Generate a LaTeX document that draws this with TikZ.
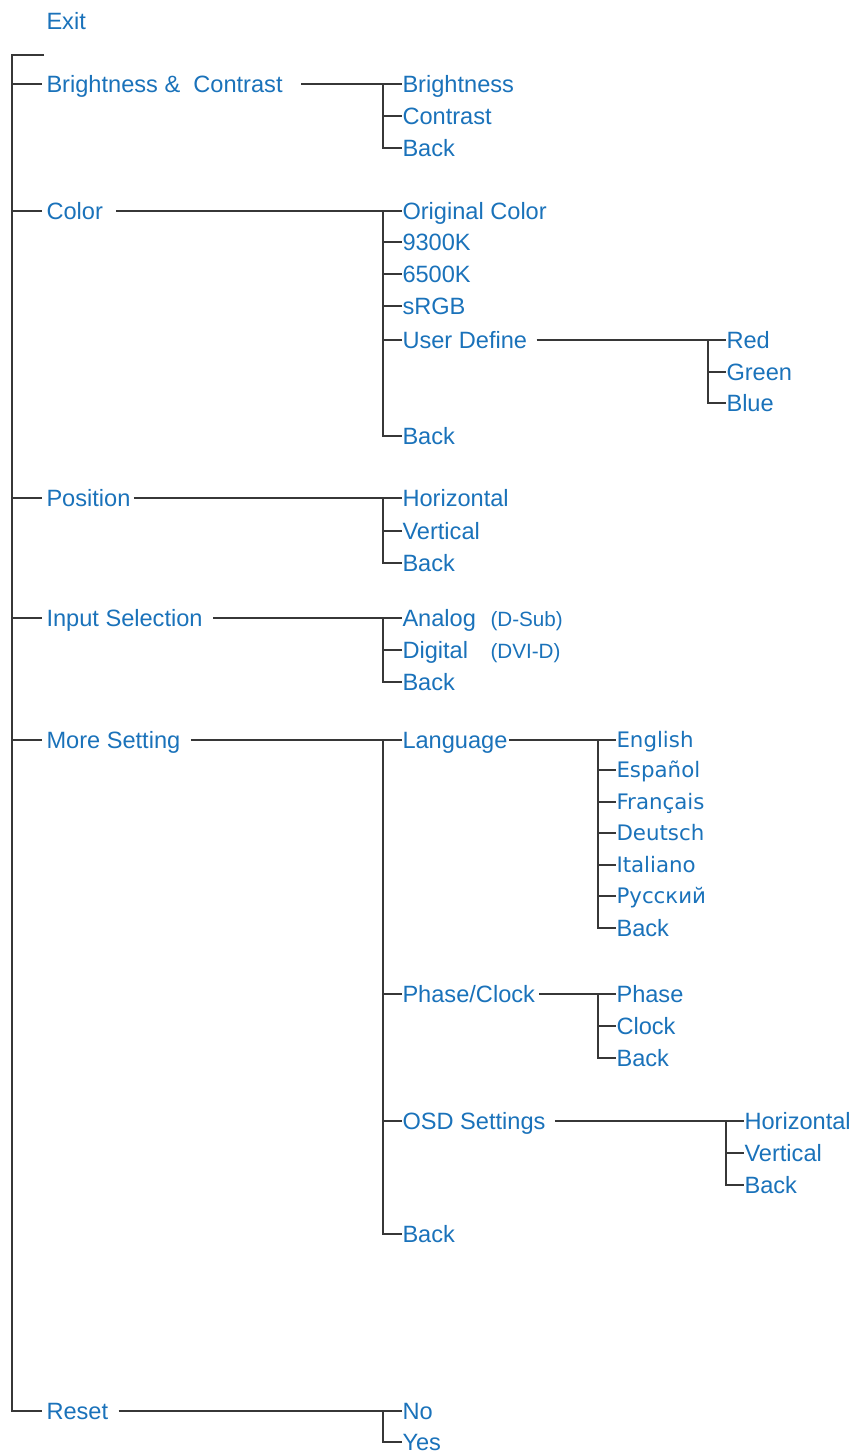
\documentclass[tikz,border=0pt]{standalone}
\usepackage{fontspec}
\setmainfont{Liberation Sans}
\newfontfamily\langfont{DejaVu Sans}
\definecolor{menublue}{RGB}{26,114,186}
\definecolor{menuline}{RGB}{55,55,55}

\tikzset{every picture/.style={line width=0.75pt}}
\tikzset{
  item/.style={anchor=west, inner sep=0pt, text height=12.6pt, text depth=0pt, text=menublue, font=\fontsize{17.7pt}{20pt}\selectfont},
  langitem/.style={item, text height=11.7pt, font=\langfont\fontsize{16pt}{19pt}\selectfont},
  note/.style={anchor=base west, inner sep=0pt, text=menublue, font=\fontsize{15.5pt}{18pt}\selectfont},
  link/.style={draw=menuline, line width=1.3pt},
}

\begin{document}
\begin{tikzpicture}[x=0.75pt,y=0.75pt,yscale=-1,xscale=1]
        \useasboundingbox (0,0) rectangle (855,1455);

        %Main menu
        \node[item] (exit) at (46,21) {Exit};
        \coordinate (blank) at (44,55);
        \coordinate (rootT) at (12,55);
        \node[item] (bc) at (46,84) {Brightness \& \ Contrast};
        \node[item] (col) at (46,211) {Color};
        \node[item] (pos) at (46,498) {Position};
        \node[item] (inp) at (46,618) {Input Selection};
        \node[item] (more) at (46,740) {More Setting};
        \node[item] (reset) at (46,1411) {Reset};

        %Brightness & Contrast
        \coordinate (bcT) at (383,84);
        \node[item] (bcBri) at (402,84) {Brightness};
        \node[item] (bcCon) at (402,116) {Contrast};
        \node[item] (bcBack) at (402,148) {Back};

        %Color
        \coordinate (colT) at (383,211);
        \node[item] (colOrig) at (402,211) {Original Color};
        \node[item] (colK93) at (402,242) {9300K};
        \node[item] (colK65) at (402,274) {6500K};
        \node[item] (colSRGB) at (402,306) {sRGB};
        \node[item] (colUser) at (402,340) {User Define};
        \node[item] (colBack) at (402,436) {Back};
        \coordinate (userT) at (708,340);
        \node[item] (userRed) at (726,340) {Red};
        \node[item] (userGreen) at (726,372) {Green};
        \node[item] (userBlue) at (726,403) {Blue};

        %Position
        \coordinate (posT) at (383,498);
        \node[item] (posHor) at (402,498) {Horizontal};
        \node[item] (posVer) at (402,531) {Vertical};
        \node[item] (posBack) at (402,563) {Back};

        %Input Selection
        \coordinate (inpT) at (383,618);
        \coordinate (noteX) at (490,0);
        \node[item] (inpAnalog) at (402,618) {Analog};
        \node[item] (inpDigital) at (402,650) {Digital};
        \node[item] (inpBack) at (402,682) {Back};
        \node[note] (inpAnalogNote) at (inpAnalog.base -| noteX) {(D-Sub)};
        \node[note] (inpDigitalNote) at (inpDigital.base -| noteX) {(DVI-D)};

        %More Setting
        \coordinate (moreT) at (383,740);
        \node[item] (moreLang) at (402,740) {Language};
        \node[item] (morePhase) at (402,994) {Phase/Clock};
        \node[item] (moreOSD) at (402,1121) {OSD Settings};
        \node[item] (moreBack) at (402,1234) {Back};
        \coordinate (langT) at (598,740);
        \node[langitem] (langEn) at (616,740) {English};
        \node[langitem] (langEs) at (616,770) {Español};
        \node[langitem] (langFr) at (616,802) {Français};
        \node[langitem] (langDe) at (616,833) {Deutsch};
        \node[langitem] (langIt) at (616,865) {Italiano};
        \node[langitem] (langRu) at (616,896) {Русский};
        \node[item] (langBack) at (616,928) {Back};
        \coordinate (phT) at (598,994);
        \node[item] (phPhase) at (616,994) {Phase};
        \node[item] (phClock) at (616,1026) {Clock};
        \node[item] (phBack) at (616,1058) {Back};
        \coordinate (osdT) at (726,1121);
        \node[item] (osdHor) at (744,1121) {Horizontal};
        \node[item] (osdVer) at (744,1153) {Vertical};
        \node[item] (osdBack) at (744,1185) {Back};

        %Reset
        \coordinate (resT) at (383,1411);
        \node[item] (resNo) at (402,1411) {No};
        \node[item] (resYes) at (402,1442) {Yes};

        %Straight Lines main trunk
        \draw[link] (blank) -- (rootT) |- ([xshift=-3pt]reset.west);
        \draw[link] (rootT |- bc.west) -- ([xshift=-3pt]bc.west);
        \draw[link] (rootT |- col.west) -- ([xshift=-3pt]col.west);
        \draw[link] (rootT |- pos.west) -- ([xshift=-3pt]pos.west);
        \draw[link] (rootT |- inp.west) -- ([xshift=-3pt]inp.west);
        \draw[link] (rootT |- more.west) -- ([xshift=-3pt]more.west);

        %Straight Lines brightness & contrast
        \draw[link] ([xshift=13.5pt]bc.east) -- (bcBri.west);
        \draw[link] (bcT) |- (bcBack.west);
        \draw[link] (bcT |- bcCon.west) -- (bcCon.west);

        %Straight Lines color
        \draw[link] ([xshift=9.75pt]col.east) -- (colOrig.west);
        \draw[link] (colT) |- (colBack.west);
        \draw[link] (colT |- colK93.west) -- (colK93.west);
        \draw[link] (colT |- colK65.west) -- (colK65.west);
        \draw[link] (colT |- colSRGB.west) -- (colSRGB.west);
        \draw[link] (colT |- colUser.west) -- (colUser.west);
        \draw[link] ([xshift=6.75pt]colUser.east) -- (userRed.west);
        \draw[link] (userT) |- (userBlue.west);
        \draw[link] (userT |- userGreen.west) -- (userGreen.west);

        %Straight Lines position
        \draw[link] ([xshift=2.25pt]pos.east) -- (posHor.west);
        \draw[link] (posT) |- (posBack.west);
        \draw[link] (posT |- posVer.west) -- (posVer.west);

        %Straight Lines input selection
        \draw[link] ([xshift=7.5pt]inp.east) -- (inpAnalog.west);
        \draw[link] (inpT) |- (inpBack.west);
        \draw[link] (inpT |- inpDigital.west) -- (inpDigital.west);

        %Straight Lines more setting
        \draw[link] ([xshift=7.5pt]more.east) -- (moreLang.west);
        \draw[link] (moreT) |- (moreBack.west);
        \draw[link] (moreT |- morePhase.west) -- (morePhase.west);
        \draw[link] (moreT |- moreOSD.west) -- (moreOSD.west);
        \draw[link] ([xshift=0.75pt]moreLang.east) -- (langEn.west);
        \draw[link] (langT) |- (langBack.west);
        \draw[link] (langT |- langEs.west) -- (langEs.west);
        \draw[link] (langT |- langFr.west) -- (langFr.west);
        \draw[link] (langT |- langDe.west) -- (langDe.west);
        \draw[link] (langT |- langIt.west) -- (langIt.west);
        \draw[link] (langT |- langRu.west) -- (langRu.west);
        \draw[link] ([xshift=3pt]morePhase.east) -- (phPhase.west);
        \draw[link] (phT) |- (phBack.west);
        \draw[link] (phT |- phClock.west) -- (phClock.west);
        \draw[link] ([xshift=6.75pt]moreOSD.east) -- (osdHor.west);
        \draw[link] (osdT) |- (osdBack.west);
        \draw[link] (osdT |- osdVer.west) -- (osdVer.west);

        %Straight Lines reset
        \draw[link] ([xshift=7.5pt]reset.east) -- (resNo.west);
        \draw[link] (resT) |- (resYes.west);

\end{tikzpicture}
\end{document}
